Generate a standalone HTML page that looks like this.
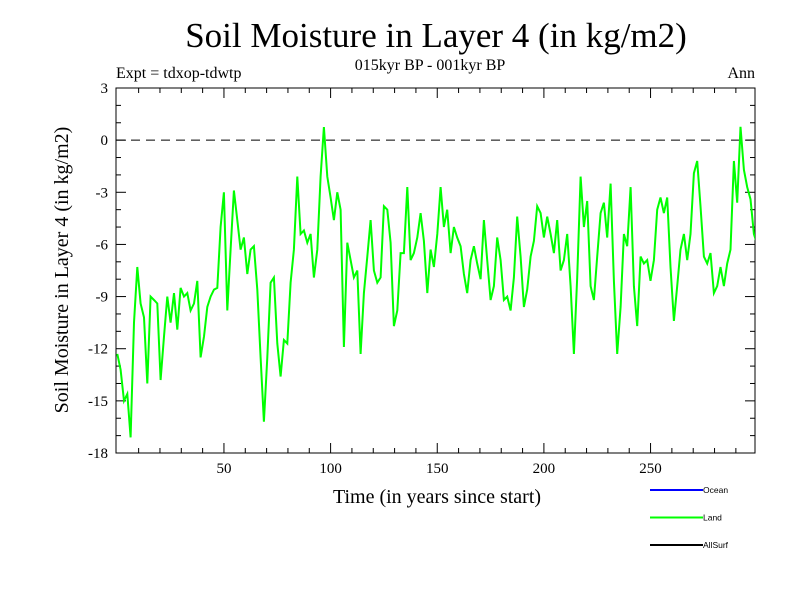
<!DOCTYPE html>
<html><head><meta charset="utf-8"><style>
body{margin:0;background:#fff;}
svg{display:block;font-family:"Liberation Serif",serif;}
</style></head><body>
<svg id="chart" width="800" height="600">
<text x="436" y="47" font-size="35" text-anchor="middle">Soil Moisture in Layer 4 (in kg/m2)</text>
<text x="430" y="70" font-size="16" text-anchor="middle">015kyr BP - 001kyr BP</text>
<text x="116" y="78" font-size="16">Expt = tdxop-tdwtp</text>
<text x="755" y="78" font-size="16" text-anchor="end">Ann</text>
<text transform="translate(68,270) rotate(-90)" font-size="20" text-anchor="middle">Soil Moisture in Layer 4 (in kg/m2)</text>
<text x="437" y="503" font-size="20" text-anchor="middle">Time (in years since start)</text>
<g id="axes"></g>
<g id="series"></g>
<g id="legend" font-family="Liberation Sans, sans-serif" font-size="8.5"></g>
</svg>
<script>
const yTicks=[3,0,-3,-6,-9,-12,-15,-18];
const xTicks=[50,100,150,200,250];
const yearStep=1.5625;
const landValues=[
-12.3,-13.2,-15,-14.6,-17.1,-10.5,-7.3,-9.4,-10.2,-14,-9,-9.2,-9.4,-13.8,-11.3,-9,-10.5,-8.8,-10.9,-8.5,-9,-8.8,-9.8,-9.4,-8.1,-12.5,-11.3,-9.6,-9,-8.6,-8.5,-5,-3,
-9.8,-6.3,-2.9,-4.6,-6.3,-5.6,-7.7,-6.3,-6.1,-8.6,-12.5,-16.2,-12.5,-8.2,-7.9,-11.7,-13.6,-11.5,-11.7,-8.2,-6.3,-2.1,-5.4,-5.2,-5.9,-5.4,-7.9,-6.3,-2.1,0.75,-2.1,-3.3,-4.6,
-3,-4,-11.9,-5.9,-6.9,-7.9,-7.5,-12.3,-8.8,-6.7,-4.6,-7.5,-8.2,-7.9,-3.8,-4,-5.9,-10.7,-9.8,-6.5,-6.5,-2.7,-6.9,-6.5,-5.6,-4.2,-5.8,-8.8,-6.3,-7.3,-5.4,-2.7,
-5,-4,-6.5,-5,-5.6,-6.1,-7.7,-8.8,-6.9,-6.1,-7.1,-8,-4.6,-6.9,-9.2,-8.4,-5.6,-6.9,-9.2,-9,-9.8,-7.9,-4.4,-6.7,-9.6,-8.6,-6.7,-5.8,-3.8,-4.2,-5.6,-4.4,
-5.4,-6.5,-4.6,-7.5,-6.9,-5.4,-8.4,-12.3,-7.9,-2.1,-5,-3.5,-8.4,-9.2,-6.7,-4.2,-3.6,-5.6,-2.5,-8.1,-12.3,-9.6,-5.4,-6.1,-2.7,-8.4,-10.7,-6.7,-7.1,-6.9,-8.1,-6.9,
-4,-3.3,-4.2,-3.3,-7.3,-10.4,-8.4,-6.3,-5.4,-6.9,-5.4,-1.9,-1.2,-3.8,-6.7,-7.1,-6.5,-8.8,-8.4,-7.3,-8.4,-7.1,-6.3,-1.2,-3.6,0.77,-1.7,-2.7,-3.4,-5.4,-6,-6.3];
const legendLabels=["Ocean","Land","AllSurf"];
const legendColors=["#0000ff","#00ff00","#000000"];

const L=116,R=755,T=88,B=453;
const xs=y=>117.3+y*(213.3/100);
const ys=v=>T+(3-v)*(B-T)/21;
const NS="http://www.w3.org/2000/svg";
function mk(tag,attrs,parent){const e=document.createElementNS(NS,tag);for(const k in attrs)e.setAttribute(k,attrs[k]);parent.appendChild(e);return e;}
const axes=document.getElementById('axes');
const frame=mk('rect',{x:L,y:T,width:R-L,height:B-T,fill:'none',stroke:'#000','stroke-width':1},axes);


for(let v=3;v>=-18;v--){const maj=(v%3===0);const len=maj?10:5;const y=ys(v);
 const t1=mk('line',{x1:L,x2:L+len,y1:y,y2:y,stroke:'#000'},axes);
 
 
 const t2=mk('line',{x1:R-len,x2:R,y1:y,y2:y,stroke:'#000'},axes);
 
 }
yTicks.forEach(v=>{const t=mk('text',{x:L-8,y:ys(v)+5,'font-size':15,'text-anchor':'end'},axes);t.textContent=v;
 
 });
for(let yr=10;yr<=290;yr+=10){const maj=(yr%50===0);const len=maj?10:5;const x=xs(yr);
 const a=mk('line',{x1:x,x2:x,y1:B,y2:B-len,stroke:'#000'},axes);
 
 
 const b=mk('line',{x1:x,x2:x,y1:T,y2:T+len,stroke:'#000'},axes);
 
 }
xTicks.forEach(v=>{const t=mk('text',{x:xs(v),y:B+20,'font-size':15,'text-anchor':'middle'},axes);t.textContent=v;
 
 });
const zero=mk('line',{x1:L,x2:R,y1:ys(0),y2:ys(0),stroke:'#000','stroke-dasharray':'9,6'},axes);


const series=document.getElementById('series');
const cp=mk('clipPath',{id:'clip'},series);mk('rect',{x:L,y:T,width:R-L,height:B-T},cp);
const pts=landValues.map((v,i)=>xs(i*yearStep).toFixed(1)+','+ys(v).toFixed(1)).join(' ');
const line=mk('polyline',{points:pts,fill:'none',stroke:'#00ff00','stroke-width':2,'clip-path':'url(#clip)'},series);


const lg=document.getElementById('legend');
legendLabels.forEach((lab,i)=>{const y=490+i*27.5;
 const l=mk('line',{x1:650,x2:703,y1:y,y2:y,stroke:legendColors[i],'stroke-width':2},lg);
 
 
 const t=mk('text',{x:703,y:y+3},lg);t.textContent=lab;
 
 });
</script>
</body></html>
